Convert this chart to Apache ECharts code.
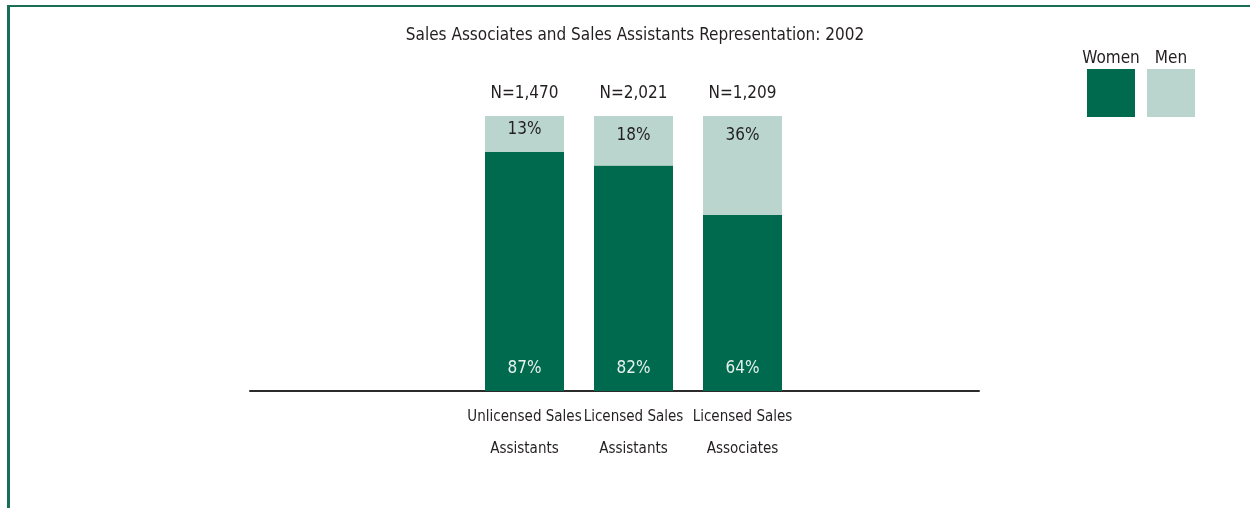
<!DOCTYPE html>
<html>
<head>
<meta charset="utf-8">
<title>Sales Associates and Sales Assistants Representation: 2002</title>
<script src="https://cdn.jsdelivr.net/npm/echarts@6/dist/echarts.min.js"></script>
<style>
  html, body { margin: 0; padding: 0; background: #ffffff; }
  #chart { width: 1250px; height: 508px; }
</style>
</head>
<body>
<div id="chart"></div>
<script>
// Données
const categories = [ 'Unlicensed Sales\nAssistants', 'Licensed Sales\nAssistants', 'Licensed Sales\nAssociates' ];
const headcounts = [ 'N=1,470', 'N=2,021', 'N=1,209' ];
const women = [ 87, 82, 64 ];
const men = [ 13, 18, 36 ];

const FONT = "'Liberation Sans Narrow', 'DejaVu Sans Condensed', 'Noto Sans', sans-serif";
const GREEN = '#006a4f';
const LIGHT = '#b9d5ce';
const BORDER = '#1a6e56';
const INK = '#231f20';

const chartDom = document.getElementById( 'chart' );
const myChart = echarts.init( chartDom );

const option = {
  animation: false,
  title: {
    text: 'Sales Associates and Sales Assistants Representation: 2002',
    left: 630,
    textAlign: 'center',
    top: 22,
    textStyle: { fontFamily: FONT, fontSize: 17, fontWeight: 'normal', color: INK }
  },
  legend: {
    left: 1087,
    top: 69,
    padding: 0,
    itemWidth: 48,
    itemHeight: 48,
    itemGap: 12,
    icon: 'rect',
    formatter: () => '',
    selectedMode: false,
    data: [ 'Women', 'Men' ]
  },
  grid: [
    // zone des barres
    { left: 470, width: 327, top: 116, bottom: 117 },
    // zone de la ligne de base
    { left: 250, right: 271, top: 116, bottom: 117 }
  ],
  xAxis: [
    {
      type: 'category',
      gridIndex: 0,
      data: categories,
      axisLine: { show: false },
      axisTick: { show: false },
      axisLabel: {
        fontFamily: FONT, fontSize: 15, color: INK,
        lineHeight: 32, margin: 10, interval: 0
      }
    },
    {
      type: 'value',
      gridIndex: 1,
      min: 0,
      max: 1,
      axisLine: { show: true, lineStyle: { color: '#2b2b2b', width: 2 } },
      axisTick: { show: false },
      axisLabel: { show: false },
      splitLine: { show: false }
    }
  ],
  yAxis: [
    { type: 'value', gridIndex: 0, min: 0, max: 100, show: false },
    { type: 'value', gridIndex: 1, min: 0, max: 100, show: false }
  ],
  series: [
    {
      name: 'Women',
      type: 'bar',
      stack: 'total',
      barWidth: 79,
      itemStyle: { color: GREEN },
      label: {
        show: true,
        position: 'insideBottom',
        distance: 14,
        formatter: ( { value } ) => value + '%',
        fontFamily: FONT, fontSize: 17, color: '#e6f0ec'
      },
      data: women
    },
    {
      name: 'Men',
      type: 'bar',
      stack: 'total',
      barWidth: 79,
      itemStyle: { color: LIGHT },
      label: {
        show: true,
        position: 'insideTop',
        distance: 11,
        formatter: ( { value } ) => value + '%',
        fontFamily: FONT, fontSize: 17, color: INK
      },
      data: men.map( ( v, i ) => i === 0 ? { value: v, label: { distance: 5 } } : v )
    },
    {
      // étiquettes N= au-dessus des barres
      name: 'N',
      type: 'bar',
      stack: 'total',
      barWidth: 79,
      itemStyle: { color: 'transparent' },
      label: {
        show: true,
        position: 'top',
        distance: 14,
        formatter: ( { dataIndex } ) => headcounts[ dataIndex ],
        fontFamily: FONT, fontSize: 17, color: INK
      },
      silent: true,
      data: headcounts.map( () => 0 )
    }
  ],
  graphic: [
    { type: 'rect', shape: { x: 7, y: 5, width: 1243, height: 2 }, style: { fill: BORDER } },
    { type: 'rect', shape: { x: 7, y: 5, width: 3, height: 503 }, style: { fill: BORDER } },
    { type: 'text', x: 1111, y: 50, style: { text: 'Women', font: '17px ' + FONT, fill: INK, align: 'center' } },
    { type: 'text', x: 1171, y: 50, style: { text: 'Men', font: '17px ' + FONT, fill: INK, align: 'center' } }
  ]
};

myChart.setOption( option );
</script>
</body>
</html>
